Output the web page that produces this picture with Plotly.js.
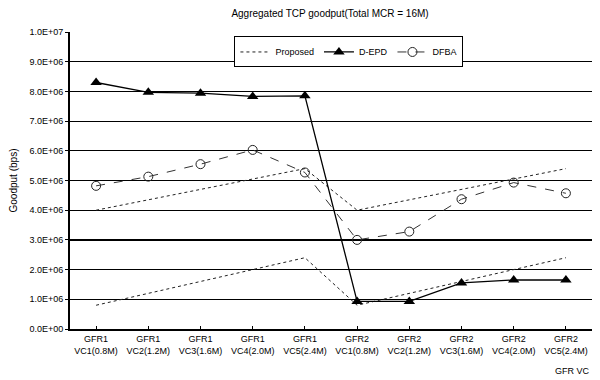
<!DOCTYPE html>
<html><head><meta charset="utf-8">
<script src="https://cdn.plot.ly/plotly-3.0.1.min.js"></script>
<style>html,body{margin:0;padding:0;background:#fff}</style>
</head><body><div id="chart" style="width:600px;height:380px"></div>
<script>
const categories = ["GFR1<br>VC1(0.8M)","GFR1<br>VC2(1.2M)","GFR1<br>VC3(1.6M)","GFR1<br>VC4(2.0M)","GFR1<br>VC5(2.4M)",
                    "GFR2<br>VC1(0.8M)","GFR2<br>VC2(1.2M)","GFR2<br>VC3(1.6M)","GFR2<br>VC4(2.0M)","GFR2<br>VC5(2.4M)"];
const proposedLow  = [0.8e6,1.2e6,1.6e6,2.0e6,2.4e6, 0.8e6,1.2e6,1.6e6,2.0e6,2.4e6];
const proposedHigh = [4.0e6,4.35e6,4.7e6,5.05e6,5.4e6, 4.0e6,4.35e6,4.7e6,5.05e6,5.4e6];
const depd = [8.3e6,7.97e6,7.94e6,7.83e6,7.85e6, 0.93e6,0.93e6,1.55e6,1.65e6,1.65e6];
const dfba = [4.82e6,5.13e6,5.55e6,6.03e6,5.27e6, 3.0e6,3.28e6,4.37e6,4.93e6,4.57e6];
const yTickVals = [0,1e6,2e6,3e6,4e6,5e6,6e6,7e6,8e6,9e6,1e7];
const yTickText = ["0.0E+00","1.0E+06","2.0E+06","3.0E+06","4.0E+06","5.0E+06","6.0E+06","7.0E+06","8.0E+06","9.0E+06","1.0E+07"];

const idx = categories.map((c,i)=>i);
const traces = [
  {x: idx, y: proposedLow, name: "Proposed", mode: "lines", line: {color: "#222", width: 1, dash: "dot"}},
  {x: idx, y: proposedHigh, name: "Proposed", mode: "lines", showlegend: false, line: {color: "#222", width: 1, dash: "dot"}},
  {x: idx, y: depd, name: "D-EPD", mode: "lines+markers", line: {color: "#000", width: 1.3},
   marker: {symbol: "triangle-up", size: 10, color: "#000"}},
  {x: idx, y: dfba, name: "DFBA", mode: "lines+markers", line: {color: "#333", width: 1, dash: "dash"},
   marker: {symbol: "circle-open", size: 9, color: "#222", line: {width: 1, color: "#222"}}}
];
const layout = {
  width: 600, height: 380,
  margin: {l: 70, r: 8, t: 32, b: 51},
  paper_bgcolor: "#fff", plot_bgcolor: "#fff",
  font: {family: "Liberation Sans, Arial, sans-serif", color: "#000", size: 9},
  title: {text: "Aggregated TCP goodput(Total MCR = 16M)", x: 0.55, xanchor: "center", y: 0.965, yanchor: "middle",
          font: {size: 10, color: "#000"}},
  xaxis: {range: [-0.5, 9.5], tickvals: idx, ticktext: categories, tickmode: "array",
          showgrid: false, zeroline: false, showline: true, linecolor: "#000", linewidth: 2,
          ticks: "inside", ticklen: 3, tickcolor: "#000", tickson: "boundaries",
          tickfont: {size: 9}, fixedrange: true},
  yaxis: {range: [0, 1e7], tickvals: yTickVals, ticktext: yTickText, tickmode: "array",
          showgrid: true, gridcolor: "#000", gridwidth: 1.2, zeroline: false,
          showline: true, linecolor: "#000", linewidth: 2, ticks: "outside", ticklen: 3, tickcolor: "#000",
          tickfont: {size: 9},
          title: {text: "Goodput (bps)", font: {size: 10}, standoff: 10}},
  legend: {orientation: "h", x: 0.315, y: 0.985, xanchor: "left", yanchor: "top",
           bgcolor: "#fff", bordercolor: "#000", borderwidth: 1, font: {size: 9},
           itemwidth: 30, tracegroupgap: 0},
  annotations: [{text: "GFR VC", xref: "paper", yref: "paper", x: 1.0, y: -0.14, xanchor: "right", yanchor: "middle",
                 showarrow: false, font: {size: 9}}],
  showlegend: true
};
Plotly.newPlot("chart", traces, layout, {displayModeBar: false, staticPlot: true});
</script></body></html>
